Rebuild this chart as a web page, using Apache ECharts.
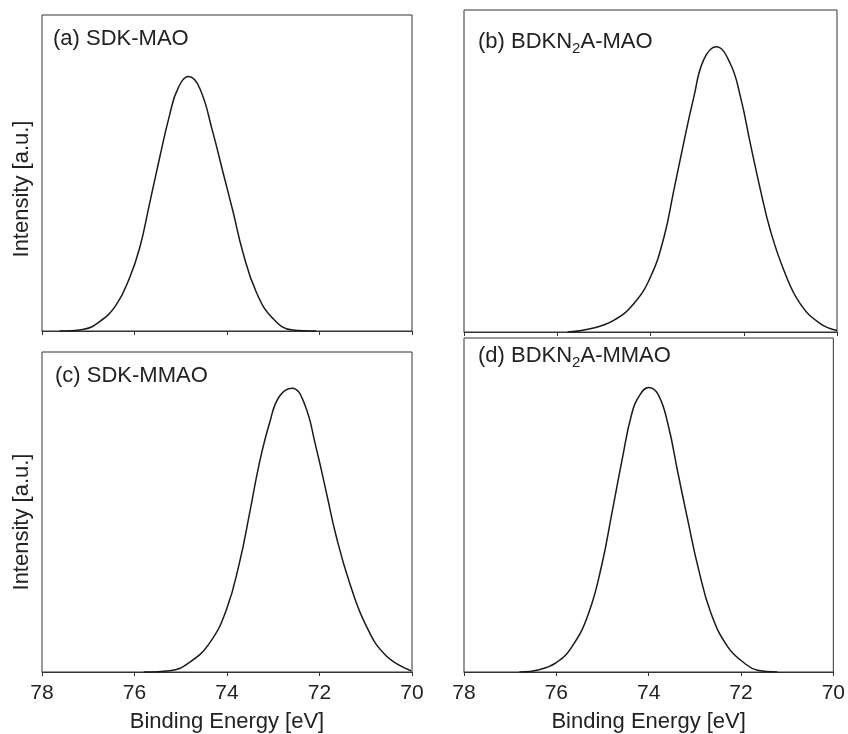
<!DOCTYPE html>
<html>
<head>
<meta charset="utf-8">
<script src="https://cdn.jsdelivr.net/npm/echarts@6/dist/echarts.min.js"></script>
<style>
html, body { margin: 0; padding: 0; background: #fff; }
#main { width: 848px; height: 734px; }
</style>
</head>
<body>
<div id="main"></div>
<script>
// binding energy axis ticks
var xTicks = [78, 76, 74, 72, 70];

// (a) SDK-MAO
var energyA = [77.62, 77.12, 76.76, 76.40, 76.11, 75.89, 75.68, 75.46, 75.24, 75.06, 74.83, 74.59, 74.31, 74.09, 73.87, 73.66, 73.37, 73.01, 72.58, 72.07];
var intensityA = [0, 0.005, 0.029, 0.082, 0.167, 0.262, 0.399, 0.546, 0.684, 0.768, 0.805, 0.768, 0.631, 0.504, 0.378, 0.251, 0.124, 0.040, 0.003, 0];

// (b) BDKN2A-MAO
var energyB = [75.78, 75.29, 74.79, 74.36, 74.00, 73.71, 73.50, 73.29, 73.07, 72.86, 72.59, 72.29, 72.07, 71.86, 71.64, 71.43, 71.14, 70.79, 70.36, 70.00];
var intensityB = [0, 0.010, 0.036, 0.088, 0.171, 0.295, 0.440, 0.586, 0.730, 0.845, 0.886, 0.834, 0.730, 0.586, 0.440, 0.316, 0.192, 0.088, 0.026, 0.005];

// (c) SDK-MMAO
var energyC = [75.80, 75.24, 74.81, 74.37, 74.01, 73.73, 73.51, 73.30, 73.08, 72.87, 72.59, 72.33, 72.08, 71.85, 71.64, 71.35, 70.99, 70.56, 70.02];
var intensityC = [0, 0.004, 0.030, 0.092, 0.196, 0.342, 0.497, 0.653, 0.778, 0.861, 0.887, 0.840, 0.705, 0.560, 0.425, 0.279, 0.144, 0.051, 0.004];

// (d) BDKN2A-MMAO
var energyD = [76.80, 76.37, 76.01, 75.66, 75.30, 75.01, 74.80, 74.58, 74.37, 74.19, 74.00, 73.79, 73.58, 73.36, 73.15, 72.93, 72.65, 72.29, 71.93, 71.64, 71.21];
var intensityD = [0, 0.007, 0.027, 0.076, 0.176, 0.324, 0.473, 0.632, 0.771, 0.830, 0.852, 0.830, 0.741, 0.592, 0.453, 0.314, 0.176, 0.076, 0.027, 0.005, 0];

var FONT = '"Liberation Sans", Arial, sans-serif';
var INK = '#222';

function pairs(xs, ys) {
    var out = [];
    for (var i = 0; i < xs.length; i++) {
        out.push([xs[i], ys[i]]);
    }
    return out;
}

/*各子图的位置*/
var grids = [
    { left: 42, top: 15, width: 370, height: 316 },
    { left: 464, top: 10, width: 373, height: 322 },
    { left: 42, top: 352, width: 370, height: 321 },
    { left: 464, top: 338, width: 373, height: 336 }
];
var showLabels = [false, false, true, true];
var seriesData = [
    pairs(energyA, intensityA),
    pairs(energyB, intensityB),
    pairs(energyC, intensityC),
    pairs(energyD, intensityD)
];

var option = {
    backgroundColor: '#fff',
    animation: false,
    grid: [],
    xAxis: [],
    yAxis: [],
    series: [],
    graphic: []
};

for (var i = 0; i < 4; i++) {
    var g = grids[i];
    option.grid.push({
        left: g.left, top: g.top, width: g.width, height: g.height,
        show: true,
        borderColor: '#333',
        borderWidth: 1,
        backgroundColor: 'transparent'
    });
    option.xAxis.push({
        type: 'value',
        gridIndex: i,
        min: xTicks[xTicks.length - 1],
        max: xTicks[0],
        interval: 2,
        inverse: true,
        axisLine: { show: true, lineStyle: { color: '#333', width: 1 } },
        axisTick: { show: true, length: 4, lineStyle: { color: '#333' } },
        splitLine: { show: false },
        axisLabel: {
            show: showLabels[i],
            color: INK,
            fontSize: 21,
            fontFamily: FONT,
            margin: 11
        },
        name: showLabels[i] ? 'Binding Energy [eV]' : '',
        nameLocation: 'middle',
        nameGap: 39,
        nameTextStyle: { color: INK, fontSize: 22, fontFamily: FONT }
    });
    option.yAxis.push({
        type: 'value',
        gridIndex: i,
        min: 0,
        max: 1,
        axisLine: { show: false },
        axisTick: { show: false },
        axisLabel: { show: false },
        splitLine: { show: false }
    });
    option.series.push({
        type: 'line',
        xAxisIndex: i,
        yAxisIndex: i,
        data: seriesData[i],
        smooth: 0.45,
        showSymbol: false,
        lineStyle: { color: '#1a1a1a', width: 1.5 }
    });
}

/*面板标题与纵轴名*/
var titleRich = {
    n: { fontSize: 22, fontFamily: FONT, fill: INK, lineHeight: 28, verticalAlign: 'middle' },
    s: { fontSize: 15, fontFamily: FONT, fill: INK, lineHeight: 28, verticalAlign: 'bottom', padding: [9, 0, 0, 0] }
};
function panelTitle(x, y, text) {
    return {
        type: 'text',
        left: x,
        top: y - 12,
        style: { text: text, rich: titleRich, fill: INK, font: '22px ' + FONT }
    };
}
option.graphic.push(panelTitle(53, 40, '{n|(a) SDK-MAO}'));
option.graphic.push(panelTitle(478, 43, '{n|(b) BDKN}{s|2}{n|A-MAO}'));
option.graphic.push(panelTitle(55, 377, '{n|(c) SDK-MMAO}'));
option.graphic.push(panelTitle(478, 357, '{n|(d) BDKN}{s|2}{n|A-MMAO}'));

var yNames = [189, 522];
for (var k = 0; k < yNames.length; k++) {
    option.graphic.push({
        type: 'text',
        x: 22,
        y: yNames[k],
        rotation: Math.PI / 2,
        style: {
            text: 'Intensity [a.u.]',
            fill: INK,
            font: '22px ' + FONT,
            align: 'center',
            verticalAlign: 'middle'
        }
    });
}

var myChart = echarts.init(document.getElementById('main'));
myChart.setOption(option);
</script>
</body>
</html>
